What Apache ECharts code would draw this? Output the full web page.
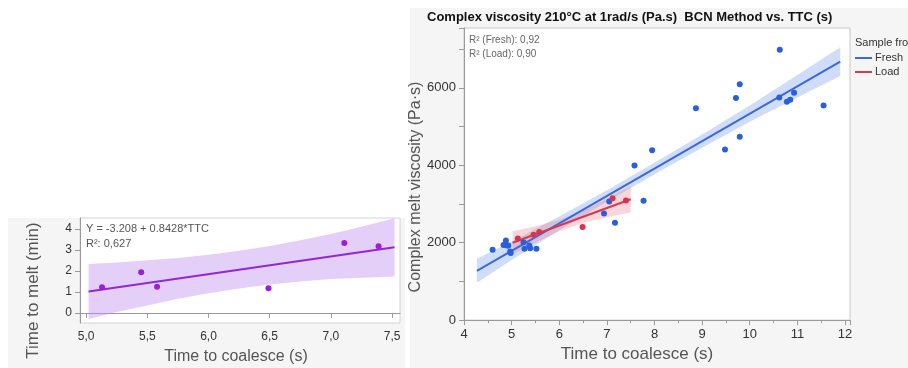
<!DOCTYPE html>
<html>
<head>
<meta charset="utf-8">
<script src="https://cdn.jsdelivr.net/npm/echarts@6/dist/echarts.min.js"></script>
<style>
  html, body { margin: 0; padding: 0; background: #fff; }
  #chart { width: 908px; height: 368px; }
</style>
</head>
<body>
<div id="chart"></div>
<script>
// ---- data ----
// left panel: time to melt vs TTC (load samples)
var meltX = [5.13, 5.45, 5.58, 6.49, 7.11, 7.39]
var meltY = [1.22, 1.94, 1.25, 1.18, 3.33, 3.18]
var meltFitX = [5.02, 7.52]
var meltFitY = [1.02, 3.13]
var meltBandX = [5.02, 5.25, 5.5, 5.75, 6.0, 6.25, 6.5, 6.75, 7.0, 7.25, 7.52]
var meltBandLo = [-0.29, 0.04, 0.35, 0.67, 0.94, 1.16, 1.35, 1.50, 1.62, 1.67, 1.73]
var meltBandHi = [2.33, 2.40, 2.51, 2.61, 2.77, 2.96, 3.19, 3.46, 3.76, 4.10, 4.51]

// right panel: complex viscosity vs TTC
var freshX = [4.60, 4.83, 4.88, 4.90, 4.93, 4.97, 4.98, 5.25, 5.27, 5.37, 5.39, 5.52,
  6.94, 7.05, 7.17, 7.58, 7.77, 7.95, 8.87, 9.48, 9.71, 9.79, 9.79, 10.62, 10.63,
  10.78, 10.85, 10.93, 11.55]
var freshY = [1815, 1942, 2058, 1924, 1924, 1772, 1730, 2008, 1840, 1924, 1856, 1840,
  2751, 3063, 2514, 3992, 3080, 4385, 5470, 4405, 5739, 6093, 4734, 5747, 6980,
  5638, 5689, 5873, 5544]
var loadX = [5.13, 5.46, 5.58, 6.49, 7.12, 7.40]
var loadY = [2109, 2203, 2278, 2405, 3147, 3088]

var freshFitX = [4.27, 11.9]
var freshFitY = [1274, 6676]
var freshBandX = [4.27, 5, 6, 7, 8, 9, 10, 11, 11.9]
var freshBandLo = [964, 1551, 2319, 3057, 3765, 4453, 5121, 5749, 6306]
var freshBandHi = [1584, 2031, 2679, 3357, 4065, 4793, 5541, 6329, 7046]

var loadFitX = [5.02, 7.5]
var loadFitY = [1998, 3122]
var loadBandX = [5.02, 5.5, 6.0, 6.5, 7.0, 7.5]
var loadBandLo = [1698, 2006, 2292, 2509, 2655, 2782]
var loadBandHi = [2298, 2426, 2592, 2829, 3135, 3462]

var meltTicksX = [5, 5.5, 6, 6.5, 7, 7.5]
var meltTicksY = [0, 1, 2, 3, 4]

var FONT = 'Liberation Sans'

function pairs(xs, ys) {
  return xs.map(function (x, i) { return [x, ys[i]] })
}

function band(xs, lo, hi, color, idx) {
  return {
    type: 'custom',
    xAxisIndex: idx,
    yAxisIndex: idx,
    silent: true,
    clip: true,
    z: 1,
    data: [[xs[0], lo[0]]],
    renderItem: function (params, api) {
      var pts = []
      for (var i = 0; i < xs.length; i++) pts.push(api.coord([xs[i], hi[i]]))
      for (var j = xs.length - 1; j >= 0; j--) pts.push(api.coord([xs[j], lo[j]]))
      return { type: 'polygon', shape: { points: pts }, style: { fill: color } }
    }
  }
}

function fitLine(name, xs, ys, color, idx) {
  return {
    name: name,
    type: 'line',
    xAxisIndex: idx,
    yAxisIndex: idx,
    data: pairs(xs, ys),
    symbol: 'none',
    silent: true,
    z: 3,
    color: color,
    lineStyle: { color: color, width: 2 }
  }
}

function dots(xs, ys, color, size, idx) {
  return {
    type: 'scatter',
    xAxisIndex: idx,
    yAxisIndex: idx,
    data: pairs(xs, ys),
    symbolSize: size,
    z: 4,
    itemStyle: { color: color, opacity: 1 }
  }
}

var axisLine = { show: true, lineStyle: { color: '#9a9a9a', width: 1 } }
var axisTick = { show: true, length: 5, lineStyle: { color: '#9a9a9a' } }
var tickFont = { color: '#333', fontFamily: FONT, fontSize: 12 }
var nameFont = { color: '#555', fontFamily: FONT, fontSize: 16 }

var chart = echarts.init(document.getElementById('chart'))

var option = {
  backgroundColor: '#fff',
  animation: false,
  title: {
    text: 'Complex viscosity 210\u00B0C at 1rad/s (Pa.s)  BCN Method vs. TTC (s)',
    left: 427,
    top: 11,
    padding: 0,
    textStyle: { fontFamily: FONT, fontSize: 13, fontWeight: 'bold', color: '#111' }
  },
  legend: {
    data: ['Fresh', 'Load'],
    orient: 'vertical',
    left: 855,
    top: 52,
    padding: 0,
    itemWidth: 17,
    itemHeight: 2,
    itemGap: 2,
    icon: 'rect',
    textStyle: { fontFamily: FONT, fontSize: 11, color: '#333', lineHeight: 12, padding: [0, 0, 0, -2] }
  },
  grid: [
    {
      left: 80, top: 218, width: 320, height: 105,
      show: true, backgroundColor: '#fff', borderColor: '#d4d4d4', borderWidth: 1
    },
    {
      left: 464, top: 28, width: 386, height: 298,
      show: true, backgroundColor: '#fff', borderColor: '#c8c8c8', borderWidth: 1
    }
  ],
  xAxis: [
    {
      type: 'value', gridIndex: 0, min: 4.95, max: 7.565,
      axisLine: axisLine,
      axisTick: Object.assign({}, axisTick, { customValues: meltTicksX }),
      axisLabel: Object.assign({}, tickFont, {
        customValues: meltTicksX, margin: 8,
        formatter: function (v) { return v.toFixed(1).replace('.', ',') }
      }),
      splitLine: { show: false },
      name: 'Time to coalesce (s)', nameLocation: 'middle', nameGap: 26,
      nameTextStyle: Object.assign({}, nameFont, { padding: [0, 8, 0, 0] })
    },
    {
      type: 'value', gridIndex: 1, min: 4, max: 12.105, interval: 1,
      axisLine: axisLine,
      axisTick: axisTick,
      minorTick: { show: true, splitNumber: 2, length: 3, lineStyle: { color: '#9a9a9a' } },
      axisLabel: Object.assign({}, tickFont, {
        fontSize: 13, margin: 8,
        formatter: function (v) { return (Math.abs(v - Math.round(v)) < 1e-6 && v <= 12) ? String(Math.round(v)) : '' }
      }),
      splitLine: { show: false },
      name: 'Time to coalesce (s)', nameLocation: 'middle', nameGap: 24,
      nameTextStyle: Object.assign({}, nameFont, { fontSize: 17, padding: [0, 40, 0, 0] })
    }
  ],
  yAxis: [
    {
      type: 'value', gridIndex: 0, min: -0.48, max: 4.52,
      axisLine: axisLine,
      axisTick: Object.assign({}, axisTick, { customValues: meltTicksY }),
      axisLabel: Object.assign({}, tickFont, { customValues: meltTicksY, margin: 8 }),
      splitLine: { show: false },
      name: 'Time to melt (min)', nameLocation: 'middle', nameGap: 38,
      nameTextStyle: Object.assign({}, nameFont, { fontSize: 17, padding: [0, 40, 0, 0] })
    },
    {
      type: 'value', gridIndex: 1, min: 0, max: 7545, interval: 1000,
      axisLine: axisLine,
      axisTick: axisTick,
      axisLabel: Object.assign({}, tickFont, {
        fontSize: 13, margin: 8,
        formatter: function (v) { return v % 2000 === 0 ? String(v) : '' }
      }),
      splitLine: { show: false },
      name: 'Complex melt viscosity (Pa\u00B7s)', nameLocation: 'middle', nameGap: 40,
      nameTextStyle: Object.assign({}, nameFont, { padding: [0, 26, 0, 0] })
    }
  ],
  graphic: [
    { type: 'rect', z: -100, silent: true, shape: { x: 8, y: 218, width: 397, height: 150 }, style: { fill: '#f5f5f5' } },
    { type: 'rect', z: -100, silent: true, shape: { x: 410, y: 8, width: 498, height: 360 }, style: { fill: '#f5f5f5' } },
    { type: 'text', z: 100, left: 86, top: 223, style: { text: 'Y = -3.208 + 0.8428*TTC', fill: '#555', font: '11px ' + FONT } },
    { type: 'text', z: 100, left: 86, top: 238, style: { text: 'R\u00B2: 0,627', fill: '#555', font: '11px ' + FONT } },
    { type: 'text', z: 100, left: 469, top: 35, style: { text: 'R\u00B2 (Fresh): 0,92', fill: '#666', font: '10px ' + FONT } },
    { type: 'text', z: 100, left: 469, top: 49, style: { text: 'R\u00B2 (Load): 0,90', fill: '#666', font: '10px ' + FONT } },
    { type: 'text', z: 100, left: 855, top: 37, style: { text: 'Sample from', fill: '#333', font: '11px ' + FONT } }
  ],
  series: [
    band(meltBandX, meltBandLo, meltBandHi, 'rgba(190, 140, 240, 0.42)', 0),
    fitLine('Melt fit', meltFitX, meltFitY, '#9327d4', 0),
    dots(meltX, meltY, '#9a1fd8', 6, 0),

    band(freshBandX, freshBandLo, freshBandHi, 'rgba(110, 150, 235, 0.32)', 1),
    band(loadBandX, loadBandLo, loadBandHi, 'rgba(230, 110, 130, 0.28)', 1),
    fitLine('Fresh', freshFitX, freshFitY, '#3b69d9', 1),
    fitLine('Load', loadFitX, loadFitY, '#d9394e', 1),
    dots(freshX, freshY, '#2a5fdc', 6, 1),
    dots(loadX, loadY, '#d9344a', 6, 1)
  ]
}

chart.setOption(option)
</script>
</body>
</html>
